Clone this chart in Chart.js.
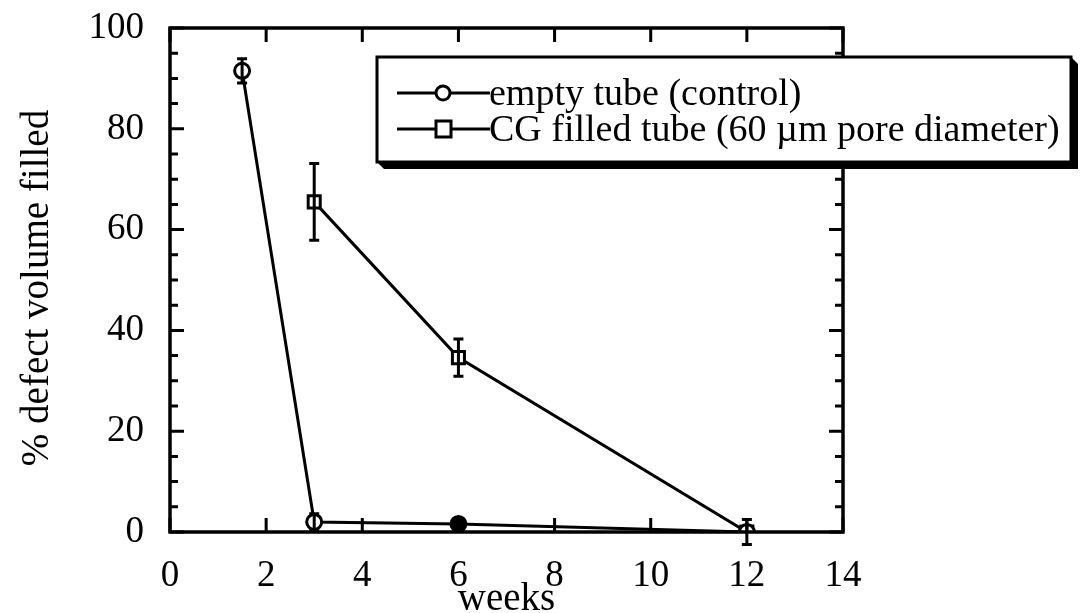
<!DOCTYPE html>
<html>
<head>
<meta charset="utf-8">
<script src="https://cdn.jsdelivr.net/npm/chart.js@4.4.1/dist/chart.umd.min.js"></script>
<style>
  html, body { margin: 0; padding: 0; background: #fff; }
  #wrap { width: 1080px; height: 613px; position: relative; }
</style>
</head>
<body>
<div id="wrap"><canvas id="c" width="1080" height="613"></canvas></div>
<script>
// Healing time course: weeks after implantation vs. % of defect volume filled
const controlWeeks = [1.5, 3, 6, 12];
const controlFilled = [91.5, 2.0, 1.6, 0];
const controlErr = [2.4, 1.6, 1.0, 0];

const cgWeeks = [3, 6, 12];
const cgFilled = [65.5, 34.6, 0];
const cgErr = [7.6, 3.7, 2.5];

const xTicks = [0, 2, 4, 6, 8, 10, 12, 14];
const yTicks = [0, 20, 40, 60, 80, 100];

const controlLabel = 'empty tube (control)';
const cgLabel = 'CG filled tube (60 \u00b5m pore diameter)';
const xTitle = 'weeks';
const yTitle = '% defect volume filled';

const INK = '#000';
const SERIF = '"Liberation Serif", "DejaVu Serif", serif';
const LW = 3;

function toPoints(xs, ys, es) {
  return xs.map((x, i) => ({ x: x, y: ys[i], err: es[i] }));
}

// vertical error bars with caps
const errorBars = {
  id: 'errorBars',
  afterDatasetsDraw(chart) {
    const ctx = chart.ctx;
    const xs = chart.scales.x, ys = chart.scales.y;
    ctx.save();
    ctx.strokeStyle = INK;
    ctx.lineWidth = LW;
    chart.data.datasets.forEach(ds => {
      ds.data.forEach(p => {
        if (!p.err) return;
        const px = xs.getPixelForValue(p.x);
        const top = ys.getPixelForValue(p.y + p.err);
        const bot = ys.getPixelForValue(p.y - p.err);
        ctx.beginPath();
        ctx.moveTo(px, top); ctx.lineTo(px, bot);
        ctx.moveTo(px - 5, top); ctx.lineTo(px + 5, top);
        ctx.moveTo(px - 5, bot); ctx.lineTo(px + 5, bot);
        ctx.stroke();
      });
    });
    ctx.restore();
  }
};

// boxed frame with inward ticks on all four sides, titles and shadowed legend
const frame = {
  id: 'frame',
  afterDraw(chart) {
    const ctx = chart.ctx;
    const a = chart.chartArea;
    const xs = chart.scales.x, ys = chart.scales.y;
    ctx.save();
    ctx.strokeStyle = INK;
    ctx.lineWidth = 3.5;
    ctx.strokeRect(a.left, a.top, a.right - a.left, a.bottom - a.top);

    ctx.lineWidth = LW;
    ctx.beginPath();
    for (let v = 0; v <= 100; v += 5) {
      const py = ys.getPixelForValue(v);
      const len = v % 20 === 0 ? 14 : 8;
      ctx.moveTo(a.left, py); ctx.lineTo(a.left + len, py);
      ctx.moveTo(a.right, py); ctx.lineTo(a.right - len, py);
    }
    xTicks.forEach(v => {
      const px = xs.getPixelForValue(v);
      ctx.moveTo(px, a.bottom); ctx.lineTo(px, a.bottom - 14);
      ctx.moveTo(px, a.top); ctx.lineTo(px, a.top + 14);
    });
    ctx.stroke();

    // axis titles
    ctx.fillStyle = INK;
    ctx.font = '39px ' + SERIF;
    ctx.textAlign = 'center';
    ctx.textBaseline = 'alphabetic';
    ctx.fillText(xTitle, (a.left + a.right) / 2, 610);
    ctx.save();
    ctx.translate(48, (a.top + a.bottom) / 2 + 8);
    ctx.rotate(-Math.PI / 2);
    ctx.fillText(yTitle, 0, 0);
    ctx.restore();

    // legend box with drop shadow
    const L = 377, T = 57, R = 1071, B = 162, S = 7;
    ctx.beginPath();
    ctx.moveTo(L, B); ctx.lineTo(L + S, B + S); ctx.lineTo(R + S, B + S);
    ctx.lineTo(R + S, T + S); ctx.lineTo(R, T); ctx.closePath();
    ctx.fill();
    ctx.fillStyle = '#fff';
    ctx.fillRect(L, T, R - L, B - T);
    ctx.lineWidth = 3;
    ctx.strokeRect(L, T, R - L, B - T);

    const rows = [
      { label: controlLabel, style: 'circle', y: 93 },
      { label: cgLabel, style: 'rect', y: 129 }
    ];
    rows.forEach(r => {
      ctx.strokeStyle = INK;
      ctx.lineWidth = LW;
      ctx.beginPath();
      ctx.moveTo(397, r.y); ctx.lineTo(490, r.y);
      ctx.stroke();
      ctx.fillStyle = '#fff';
      ctx.beginPath();
      if (r.style === 'circle') ctx.arc(443, r.y, 7, 0, Math.PI * 2);
      else ctx.rect(436, r.y - 8, 15, 16);
      ctx.fill();
      ctx.stroke();
      ctx.fillStyle = INK;
      ctx.font = '38px ' + SERIF;
      ctx.textAlign = 'left';
      ctx.textBaseline = 'alphabetic';
      ctx.fillText(r.label, 489, r.y + 12);
    });
    ctx.restore();
  }
};

new Chart(document.getElementById('c'), {
  type: 'scatter',
  data: {
    datasets: [
      {
        label: controlLabel,
        data: toPoints(controlWeeks, controlFilled, controlErr),
        showLine: true,
        borderColor: INK,
        borderWidth: LW,
        pointStyle: 'circle',
        pointRadius: 7.5,
        pointBorderWidth: LW,
        pointBorderColor: INK,
        pointBackgroundColor: c => (c.dataIndex === 2 ? INK : '#fff')
      },
      {
        label: cgLabel,
        data: toPoints(cgWeeks, cgFilled, cgErr),
        showLine: true,
        borderColor: INK,
        borderWidth: LW,
        pointStyle: 'rect',
        pointRadius: 8.5,
        pointBorderWidth: LW,
        pointBorderColor: INK,
        pointBackgroundColor: '#fff'
      }
    ]
  },
  options: {
    responsive: false,
    animation: false,
    events: [],
    layout: { padding: { top: 28, right: 237, left: 0, bottom: 0 } },
    plugins: { legend: { display: false }, tooltip: { enabled: false } },
    scales: {
      x: {
        type: 'linear',
        min: 0, max: 14,
        grid: { display: false },
        border: { display: false },
        afterBuildTicks: s => { s.ticks = xTicks.map(v => ({ value: v })); },
        afterFit: s => { s.height = 81; s.paddingLeft = 0; s.paddingRight = 0; },
        ticks: { color: INK, padding: 14, maxRotation: 0, font: { family: SERIF, size: 37 } }
      },
      y: {
        min: 0, max: 100,
        grid: { display: false },
        border: { display: false },
        afterBuildTicks: s => { s.ticks = yTicks.map(v => ({ value: v })); },
        afterFit: s => { s.width = 170; s.paddingTop = 0; s.paddingBottom = 0; },
        ticks: { color: INK, padding: 18, font: { family: SERIF, size: 37 } }
      }
    }
  },
  plugins: [errorBars, frame]
});
</script>
</body>
</html>
